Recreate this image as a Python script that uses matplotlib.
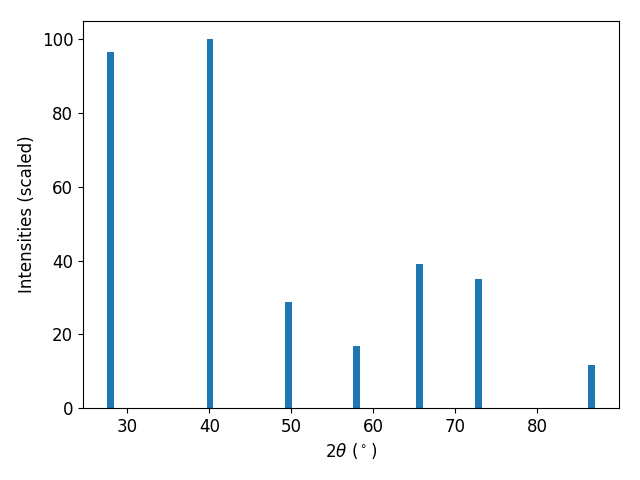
import matplotlib
matplotlib.use("Agg")
import matplotlib.pyplot as plt

two_theta = [27.95, 40.05, 49.62, 57.98, 65.6, 72.85, 86.6]
intensities = [96.5, 100.0, 28.8, 16.9, 39.1, 35.0, 11.7]

plt.rcParams['font.size'] = 12
fig, ax = plt.subplots(figsize=(6.4, 4.8), dpi=100)
ax.bar(two_theta, intensities, width=0.8, color='#1f77b4')
ax.set_xlabel(r'$2\theta$ ($^\circ$)')
ax.set_ylabel('Intensities (scaled)')
fig.subplots_adjust(left=83/640, right=619/640, top=1-21/480, bottom=1-408/480)
fig.savefig('out.png')
